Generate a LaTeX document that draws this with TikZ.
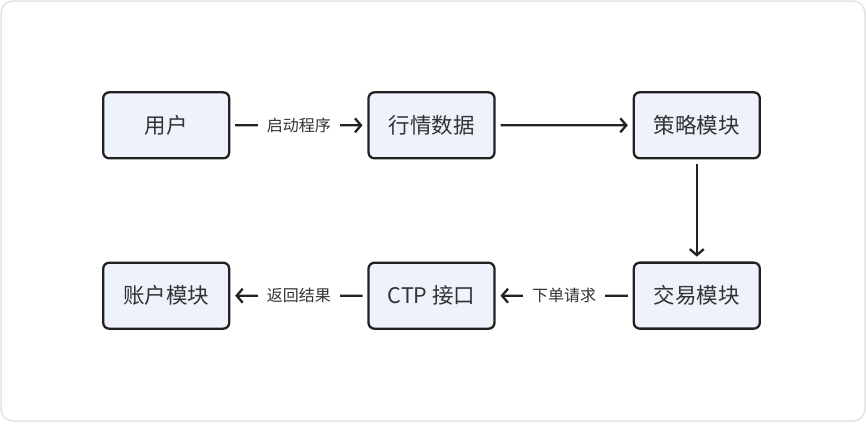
\documentclass[tikz,border=0pt]{standalone}
\usepackage{fontspec}
\setmainfont{Noto Sans CJK SC}
\usetikzlibrary{matrix,arrows.meta}
\definecolor{boxfill}{HTML}{EEF2FA}
\definecolor{boxline}{HTML}{222222}
\definecolor{textgray}{HTML}{333333}
\definecolor{framegray}{HTML}{E3E3E3}

\begin{document}
\begin{tikzpicture}[x=1pt, y=-1pt,
    flowarrow/.style={line width=2.3pt, draw=boxline, shorten <=6pt, shorten >=6pt,
                      -{Straight Barb[length=6pt,width=14pt]}},
    flowlabel/.style={fill=white, text=textgray, inner sep=9pt,
                      font=\fontsize{16}{16}\selectfont}]
  \useasboundingbox (0,0) rectangle (866,424);
  \draw[framegray, line width=1.5pt, rounded corners=12pt] (1,1) rectangle (865,421);
  \matrix (chain) at (431.5,210.5) [matrix of nodes, ampersand replacement=\&,
          nodes={draw=boxline, line width=2.3pt, fill=boxfill, rounded corners=6pt,
                 minimum width=126pt, minimum height=66pt, outer sep=0pt,
                 text=textgray, font=\fontsize{21.5}{21.5}\selectfont},
          row sep=102pt, column sep=137pt] {
    用户     \& 行情数据 \& 策略模块 \\
    账户模块 \& CTP 接口 \& 交易模块 \\
  };
  \draw[flowarrow] (chain-1-1) -- node[flowlabel] {启动程序} (chain-1-2);
  \draw[flowarrow] (chain-1-2) -- (chain-1-3);
  \draw[flowarrow] (chain-1-3) -- (chain-2-3);
  \draw[flowarrow] (chain-2-3) -- node[flowlabel] {下单请求} (chain-2-2);
  \draw[flowarrow] (chain-2-2) -- node[flowlabel] {返回结果} (chain-2-1);
\end{tikzpicture}
\end{document}
